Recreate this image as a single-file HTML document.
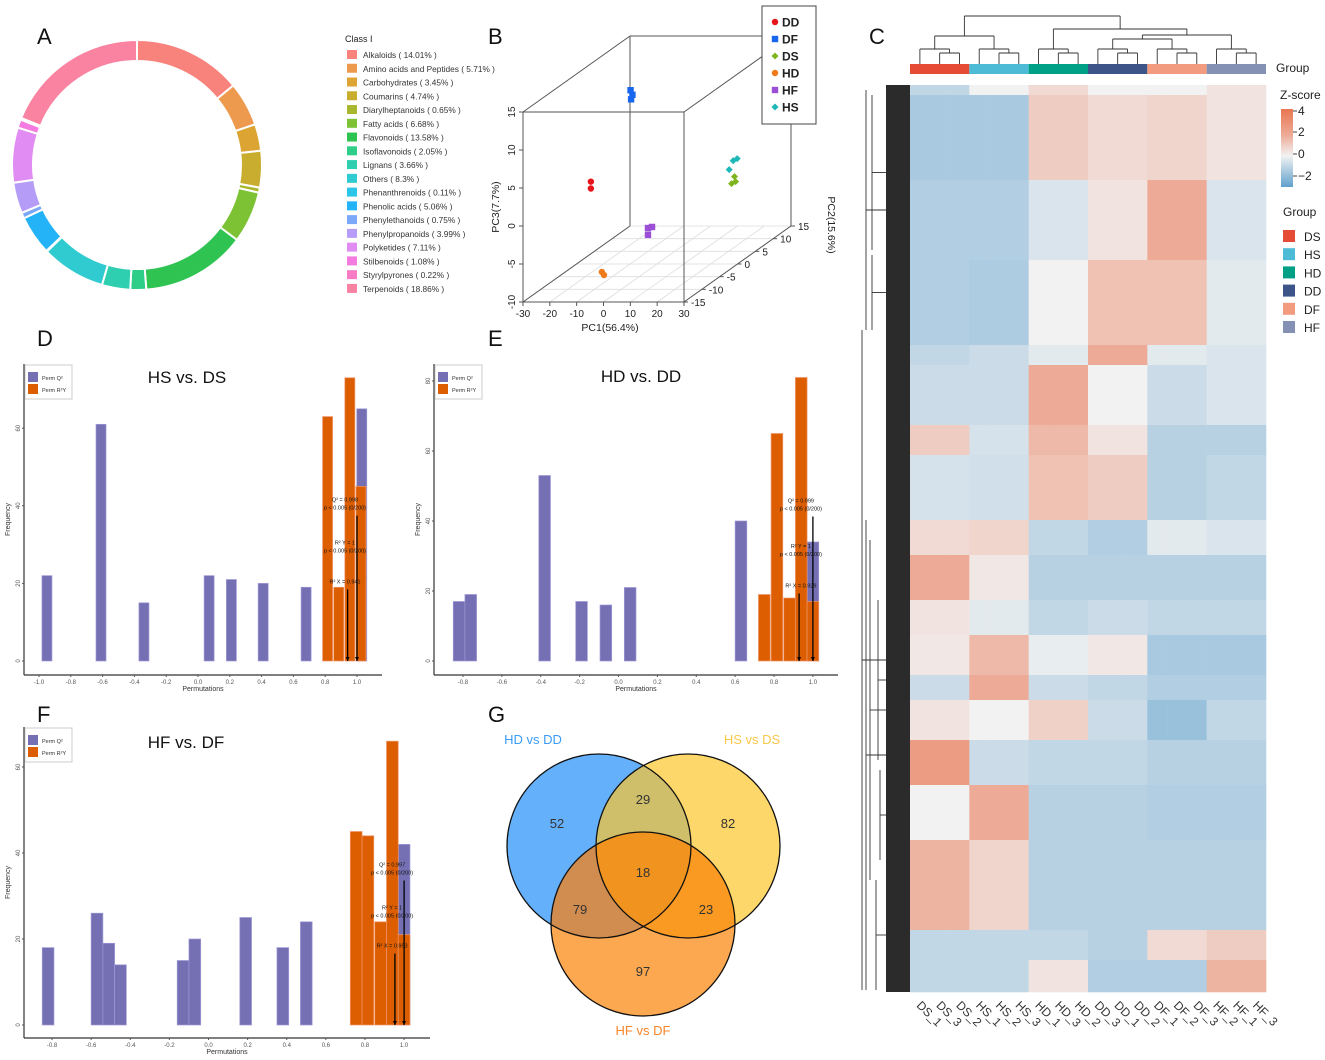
<!DOCTYPE html>
<html><head><meta charset="utf-8"><style>
html,body{margin:0;padding:0;background:#fff;}
svg{display:block;font-family:"Liberation Sans",Arial,sans-serif;}
</style></head><body>
<svg id="fig" width="1325" height="1060" viewBox="0 0 1325 1060" xmlns="http://www.w3.org/2000/svg">
<g font-size="22" fill="#111">
<text x="37" y="44">A</text><text x="488" y="44">B</text><text x="869" y="44">C</text>
<text x="37" y="346">D</text><text x="488" y="346">E</text><text x="37" y="722">F</text><text x="488" y="722">G</text>
</g>
<g id="donut"></g>
<g id="donutLegend"><text x="345" y="42" font-size="9" fill="#222">Class I</text></g>
<g id="pca"></g>
<g id="heat"></g>
<g id="histD"></g>
<g id="histE"></g>
<g id="histF"></g>
<g id="venn"></g>
</svg>
<script>
// ---------- Panel A data ----------
const donutLabels=["Alkaloids","Amino acids and Peptides","Carbohydrates","Coumarins","Diarylheptanoids","Fatty acids","Flavonoids","Isoflavonoids","Lignans","Others","Phenanthrenoids","Phenolic acids","Phenylethanoids","Phenylpropanoids","Polyketides","Stilbenoids","Styrylpyrones","Terpenoids"];
const donutValues=[14.01,5.71,3.45,4.74,0.65,6.68,13.58,2.05,3.66,8.3,0.11,5.06,0.75,3.99,7.11,1.08,0.22,18.86];
const donutColors=["#f8837c","#ee9a4e","#dca433","#c8ad2e","#a9b72e","#7dc234","#2fc452","#2ecd88","#2ecfb0","#2fcbd0","#2bc5e8","#24b3f6","#7ba8f8","#b59cf6","#e18cf2","#f47ce0","#f87bc5","#fa83a2"];
// ---------- Panel B data ----------
const pcaGroups=["DD","DF","DS","HD","HF","HS"];
const pcaColors=["#e8141c","#1766f0","#7fb51e","#ef7a1a","#9b4fd6","#1fb8b8"];
const pcaPC1=[[-18,-18],[-16.5,-15.8,-16.3],[14.5,15.6,16.0],[-4.6,-3.8],[-0.7,0.8,-0.7],[13.6,15.1,16.6]];
const pcaPC2=[[-5,-5],[5,5,5],[10,10,10],[-12,-12],[-2,-2,-2],[10,10,10]];
const pcaPC3=[[2.5,1.6],[11.2,10.6,10.0],[-2.76,-1.84,-2.5],[-7.05,-7.45],[-4.6,-4.46,-5.5],[-0.92,0.26,0.53]];
const pcaShapes=["circle","square","diamond","circle","square","diamond"];
// ---------- Panel C data ----------
const hmGroups=["DS","HS","HD","DD","DF","HF"];
const hmGroupColors=["#e64b35","#4dbbd5","#00a087","#3c5488","#f39b7f","#8491b4"];
const hmSamples=["DS_1","DS_3","DS_2","HS_1","HS_2","HS_3","HD_1","HD_3","HD_2","DD_3","DD_1","DD_2","DF_1","DF_2","DF_3","HF_2","HF_1","HF_3"];
const hmBlockRows=[10,85,80,85,20,60,30,65,35,45,35,40,25,40,45,55,90,30,32];
const hmBlockValues=[
[-1,0,0.5,0,0,0.3],[-1.5,-1.5,0.8,0.5,0.6,0.3],[-1.3,-1.3,-0.5,0.3,1.5,-0.5],[-1.3,-1.4,0,1.0,1.0,-0.3],
[-1,-0.8,-0.3,1.5,-0.3,-0.5],[-0.8,-0.8,1.5,0,-0.8,-0.5],[0.8,-0.6,1.2,0.3,-1.2,-1.2],[-0.6,-0.7,1.0,0.8,-1.2,-1.0],
[0.5,0.6,-1,-1.3,-0.3,-0.5],[1.5,0.2,-1.2,-1.2,-1.2,-1.2],[0.3,-0.3,-1,-0.8,-1,-1],[0.2,1.2,-0.2,0.2,-1.5,-1.5],
[-0.8,1.5,-0.8,-1,-1.3,-1.3],[0.3,0,0.7,-0.8,-1.8,-1],[1.8,-0.8,-1,-1,-1.2,-1.2],[0,1.5,-1.2,-1.2,-1.3,-1.3],
[1.3,0.6,-1.2,-1.2,-1.2,-1.2],[-1,-1,-1,-1.2,0.5,0.8],[-1,-1,0.3,-1.3,-1.3,1.3]];
// ---------- Panels D/E/F data ----------
const dPurpleX=[-0.95,-0.61,-0.34,0.07,0.21,0.41,0.68,1.03];
const dPurpleH=[22,61,15,22,21,20,19,65];
const dOrangeX=[0.815,0.885,0.955,1.025];
const dOrangeH=[63,19,73,45];
const dStats=[0.998,1,0.941];
const ePurpleX=[-0.82,-0.76,-0.38,-0.19,-0.065,0.06,0.63,1.0];
const ePurpleH=[17,19,53,17,16,21,40,34];
const eOrangeX=[0.75,0.815,0.88,0.94,1.0];
const eOrangeH=[19,65,18,81,17];
const eStats=[0.999,1,0.929];
const fPurpleX=[-0.82,-0.57,-0.51,-0.45,-0.13,-0.07,0.19,0.38,0.5,1.0];
const fPurpleH=[18,26,19,14,15,20,25,18,24,42];
const fOrangeX=[0.755,0.815,0.88,0.94,1.0];
const fOrangeH=[45,44,24,66,21];
const fStats=[0.997,1,0.953];
// ---------- Panel G data ----------
const vennSetNames=["HD vs DD","HS vs DS","HF vs DF"];
const vennCounts={a:52,b:82,c:97,ab:29,ac:79,bc:23,abc:18};

const NS="http://www.w3.org/2000/svg";
function mk(tag,attrs,parent){const e=document.createElementNS(NS,tag);for(const k in attrs)e.setAttribute(k,attrs[k]);parent.appendChild(e);return e;}
function txt(s,attrs,parent){const e=mk("text",attrs,parent);e.textContent=s;return e;}

// ===== Panel A =====
(function(){
  const g=document.getElementById("donut");
  const cx=137,cy=165,R=125,r=104;
  const total=donutValues.reduce((a,b)=>a+b,0);
  let a0=0;
  donutValues.forEach((v,i)=>{
    const a1=a0+v/total*2*Math.PI;
    const p=(a,rr)=>[cx+rr*Math.sin(a),cy-rr*Math.cos(a)];
    const large=(a1-a0)>Math.PI?1:0;
    const [x1,y1]=p(a0,R),[x2,y2]=p(a1,R),[x3,y3]=p(a1,r),[x4,y4]=p(a0,r);
    const path=mk("path",{d:`M${x1},${y1}A${R},${R} 0 ${large} 1 ${x2},${y2}L${x3},${y3}A${r},${r} 0 ${large} 0 ${x4},${y4}Z`,fill:donutColors[i],stroke:"#fff","stroke-width":2},g);
    
    
    a0=a1;
  });
  const lg=document.getElementById("donutLegend");
  donutLabels.forEach((l,i)=>{
    const y=50+i*13.76;
    const s=mk("rect",{x:347,y:y,width:10,height:9,fill:donutColors[i]},lg);
    
    
    const t=txt(`${l} ( ${donutValues[i]}% )`,{x:363,y:y+8,"font-size":8.3,fill:"#333"},lg);
    
    
  });
})();

// ===== Panel B =====
(function(){
  const g=document.getElementById("pca");
  const X0=523,X1=684,Y0=302,Y1=112,DX=107,DY=-76;
  const px=(a,b,c)=>X0+(a+30)/60*(X1-X0)+(b+15)/30*DX;
  const py=(a,b,c)=>Y0-(c+10)/25*(Y0-Y1)+(b+15)/30*DY;
  const ln=(x1,y1,x2,y2,col,w)=>mk("line",{x1,y1,x2,y2,stroke:col||"#555","stroke-width":w||1},g);
  // bottom grid
  for(let v=-30;v<=30;v+=10){ln(px(v,-15,-10),py(v,-15,-10),px(v,15,-10),py(v,15,-10),"#ddd",0.8);}
  for(let v=-15;v<=15;v+=5){ln(px(-30,v,-10),py(-30,v,-10),px(30,v,-10),py(30,v,-10),"#ddd",0.8);}
  // box
  ln(X0,Y0,X1,Y0);ln(X0,Y1,X1,Y1);ln(X0,Y0,X0,Y1);ln(X1,Y0,X1,Y1);
  ln(X0,Y0,X0+DX,Y0+DY);ln(X0,Y1,X0+DX,Y1+DY);ln(X1,Y1,X1+DX,Y1+DY);ln(X1,Y0,X1+DX,Y0+DY);
  ln(X0+DX,Y1+DY,X1+DX,Y1+DY);ln(X0+DX,Y1+DY,X0+DX,Y0+DY);ln(X1+DX,Y1+DY,X1+DX,Y0+DY);
  // ticks
  for(let v=-30;v<=30;v+=10){const x=px(v,-15,-10);ln(x,Y0,x,Y0+4);const t=txt(String(v),{x:x,y:Y0+15,"font-size":10,"text-anchor":"middle",fill:"#222"},g);}
  for(let v=-10;v<=15;v+=5){const y=py(-30,-15,v);ln(X0-4,y,X0,y);const t=txt(String(v),{x:X0-8,y:y,"font-size":10,"text-anchor":"middle",fill:"#222",transform:`rotate(-90 ${X0-8} ${y})`},g);}
  for(let v=-15;v<=15;v+=5){const x=px(30,v,-10),y=py(30,v,-10);ln(x,y,x+4,y);const t=txt(String(v),{x:x+7,y:y+4,"font-size":10,fill:"#222"},g);}
  let t=txt("PC1(56.4%)",{x:610,y:331,"font-size":10.5,"text-anchor":"middle",fill:"#222"},g);
  t=txt("PC3(7.7%)",{x:499,y:207,"font-size":10.5,"text-anchor":"middle",fill:"#222",transform:"rotate(-90 499 207)"},g);
  t=txt("PC2(15.6%)",{x:828,y:225,"font-size":10.5,"text-anchor":"middle",fill:"#222",transform:"rotate(90 828 225)"},g);
  function marker(shape,x,y,col,s){
    let e;
    if(shape==="circle")e=mk("circle",{cx:x,cy:y,r:s,fill:col},g);
    else if(shape==="square")e=mk("rect",{x:x-s,y:y-s,width:2*s,height:2*s,fill:col},g);
    else e=mk("polygon",{points:`${x},${y-s*1.1} ${x+s*1.1},${y} ${x},${y+s*1.1} ${x-s*1.1},${y}`,fill:col},g);
    return e;
  }
  pcaGroups.forEach((gr,i)=>{
    pcaPC1[i].forEach((a,j)=>{
      const b=pcaPC2[i][j],c=pcaPC3[i][j];
      const m=marker(pcaShapes[i],px(a,b,c),py(a,b,c),pcaColors[i],3.2);
      
      
    });
  });
  const lb=mk("rect",{x:762,y:6,width:54,height:118,fill:"#fff",stroke:"#444","stroke-width":1},g);
  
  
  pcaGroups.forEach((gr,i)=>{
    const y=22+i*17;
    const m=marker(pcaShapes[i],775,y,pcaColors[i],3.2);
    
    
    const tt=txt(gr,{x:782,y:y+4.5,"font-size":12,"font-weight":"bold",fill:"#222"},g);
    
    
  });
})();

// ===== Panel C =====
(function(){
  const g=document.getElementById("heat");
  const L=910,Rr=1266,T=85;
  const cw=(Rr-L)/hmSamples.length;
  function zColor(z){
    z=Math.max(-3,Math.min(3,z));
    const w=[242,242,242];let c;
    if(z<0){const t=-z/3;c=[95,160,205];}else{const t=z/2.6;c=[233,118,82];}
    const t=z<0?-z/3:Math.min(1,z/2.6);
    return `rgb(${w.map((v,k)=>Math.round(v+(c[k]-v)*t)).join(",")})`;
  }
  let y=T;
  hmBlockRows.forEach((n,b)=>{
    hmSamples.forEach((s,j)=>{
      const gi=Math.floor(j/3);
      const r=mk("rect",{x:L+j*cw,y:y,width:cw+0.3,height:n+0.3,fill:zColor(hmBlockValues[b][gi])},g);
      
      
    });
    y+=n;
  });
  const B=y;
  // group bar
  hmGroups.forEach((gr,i)=>{
    const r=mk("rect",{x:L+i*3*cw,y:64,width:3*cw,height:10,fill:hmGroupColors[i]},g);
    
    
  });
  // top dendrogram
  const cx=j=>L+cw*(j+0.5);
  const dl=(x1,y1,x2,y2)=>mk("line",{x1,y1,x2,y2,stroke:"#333","stroke-width":0.9},g);
  const groupTop=[];
  for(let i=0;i<6;i++){
    const a=cx(3*i),b=cx(3*i+1),c=cx(3*i+2),m=(b+c)/2,t1=53,t2=49;
    dl(b,64,b,t1);dl(c,64,c,t1);dl(b,t1,c,t1);
    dl(a,64,a,t2);dl(m,t1,m,t2);dl(a,t2,m,t2);
    groupTop.push((a+m)/2);
  }
  const J=(x1,y1,x2,y2,yt)=>{dl(x1,y1,x1,yt);dl(x2,y2,x2,yt);dl(x1,yt,x2,yt);return (x1+x2)/2;};
  const dsHs=J(groupTop[0],49,groupTop[1],49,36);
  const ddDf=J(groupTop[3],49,groupTop[4],49,39);
  const rest=J(ddDf,39,groupTop[5],49,35);
  const hdRest=J(groupTop[2],49,rest,35,29);
  J(dsHs,36,hdRest,29,16);
  // left dendrogram (decorative)
  const dr=mk("rect",{x:886,y:T,width:24,height:B-T,fill:"#2b2b2b"},g);
  
  
  const lv=[[862,330,990],[866,90,330],[866,520,990],[872,95,250],[872,255,330],[870,540,880],[876,880,990],[878,600,760],[880,770,860]];
  lv.forEach(v=>{dl(v[0],v[1],v[0],v[2]);dl(v[0],(v[1]+v[2])/2,886,(v[1]+v[2])/2);});
  // column labels
  hmSamples.forEach((s,j)=>{
    const x=cx(j)-4,yy=B+14;
    const t=txt(s.replace("_","_"),{x:x,y:yy,"font-size":12,fill:"#333",transform:`rotate(45 ${x} ${yy})`},g);
    
    
  });
  // legends
  let t=txt("Group",{x:1276,y:72,"font-size":12,fill:"#222"},g);
  t=txt("Z-score",{x:1280,y:99,"font-size":12,fill:"#222"},g);
  const defs=mk("defs",{},g);const lgd=mk("linearGradient",{id:"zg",x1:0,y1:0,x2:0,y2:1},defs);
  [[0,zColor(3)],[0.33,zColor(1.5)],[0.6,zColor(0)],[1,zColor(-3)]].forEach(s=>mk("stop",{offset:s[0],"stop-color":s[1]},lgd));
  const cb=mk("rect",{x:1281,y:109,width:12,height:78,fill:"url(#zg)"},g);
  
  
  [["4",111],["2",132],["0",154],["\u22122",176]].forEach(k=>{dl(1293,k[1],1297,k[1]);const tt=txt(k[0],{x:1298,y:k[1]+4,"font-size":12,fill:"#222"},g);});
  t=txt("Group",{x:1283,y:216,"font-size":12,fill:"#222"},g);
  hmGroups.forEach((gr,i)=>{
    const yy=230+i*18.2;
    const r=mk("rect",{x:1283,y:yy,width:12,height:12,fill:hmGroupColors[i]},g);
    
    
    const tt=txt(gr,{x:1304,y:yy+11,"font-size":12,fill:"#222"},g);
    
    
  });
})();

// ===== Panels D/E/F =====
function hist(id,cfg,pX,pH,oX,oH,stats){
  const g=document.getElementById(id);
  const sx=v=>cfg.x0px+(v-cfg.x0)*cfg.xs, sy=v=>cfg.y0px-v*cfg.ys;
  const bw=cfg.bw*cfg.xs;
  pX.forEach((x,i)=>{const r=mk("rect",{x:sx(x)-bw/2,y:sy(pH[i]),width:bw,height:pH[i]*cfg.ys,fill:"#7570b3",stroke:"#9e9ad6","stroke-width":0.7},g);});
  oX.forEach((x,i)=>{const r=mk("rect",{x:sx(x)-bw/2,y:sy(oH[i]),width:bw,height:oH[i]*cfg.ys,fill:"#dd5e00",stroke:"#f0956a","stroke-width":0.7},g);});
  const axY=cfg.axisY;
  mk("line",{x1:cfg.left,y1:cfg.top,x2:cfg.left,y2:axY,stroke:"#333","stroke-width":1.2},g);
  mk("line",{x1:cfg.left,y1:axY,x2:cfg.right,y2:axY,stroke:"#333","stroke-width":1.2},g);
  cfg.xt.forEach(v=>{const x=sx(v);mk("line",{x1:x,y1:axY,x2:x,y2:axY+2,stroke:"#555"},g);const t=txt(v.toFixed(1),{x:x,y:axY+9,"font-size":6,"text-anchor":"middle",fill:"#555"},g);});
  cfg.yt.forEach(v=>{const y=sy(v);mk("line",{x1:cfg.left-2,y1:y,x2:cfg.left,y2:y,stroke:"#555"},g);const t=txt(String(v),{x:cfg.left-4,y:y,"font-size":6,"text-anchor":"middle",fill:"#555",transform:`rotate(-90 ${cfg.left-4} ${y})`},g);});
  let t=txt("Permutations",{x:(cfg.left+cfg.right)/2,y:axY+16,"font-size":7,"text-anchor":"middle",fill:"#333"},g);
  const ym=(cfg.top+axY)/2;
  t=txt("Frequency",{x:cfg.left-14,y:ym,"font-size":7,"text-anchor":"middle",fill:"#333",transform:`rotate(-90 ${cfg.left-14} ${ym})`},g);
  t=txt(cfg.title,{x:cfg.tx,y:cfg.ty,"font-size":17,"text-anchor":"middle",fill:"#111"},g);
  // legend
  const lb=mk("rect",{x:cfg.left+1,y:cfg.top+1,width:47,height:34,fill:"#fff",stroke:"#ccc","stroke-width":1},g);
  
  mk("rect",{x:cfg.left+4,y:cfg.top+8,width:10,height:10,fill:"#7570b3"},g);
  mk("rect",{x:cfg.left+4,y:cfg.top+20,width:10,height:10,fill:"#dd5e00"},g);
  t=txt("Perm Q\u00b2",{x:cfg.left+18,y:cfg.top+16,"font-size":5.5,fill:"#333"},g);
  t=txt("Perm R\u00b2Y",{x:cfg.left+18,y:cfg.top+28,"font-size":5.5,fill:"#333"},g);
  // arrows & annotations
  const xq=sx(1.0),xx=sx(stats[2]);
  const aq=cfg.annY[0],ax=cfg.annY[2];
  mk("line",{x1:xq,y1:sy(aq)+6,x2:xq,y2:cfg.y0px,stroke:"#000","stroke-width":1.3},g);
  mk("line",{x1:xx,y1:sy(ax)+6,x2:xx,y2:cfg.y0px,stroke:"#000","stroke-width":1.3},g);
  mk("polygon",{points:`${xq-2},${cfg.y0px-4} ${xq+2},${cfg.y0px-4} ${xq},${cfg.y0px}`,fill:"#000"},g);
  mk("polygon",{points:`${xx-2},${cfg.y0px-4} ${xx+2},${cfg.y0px-4} ${xx},${cfg.y0px}`,fill:"#000"},g);
  const an=[["Q\u00b2 = "+stats[0],0,-8],["p < 0.005 (0/200)",0,0],["R\u00b2 Y = "+stats[1],1,-8],["p < 0.005 (0/200)",1,0],["R\u00b2 X = "+stats[2],2,0]];
  an.forEach(a=>{const t2=txt(a[0],{x:xq-12,y:sy(cfg.annY[a[1]])+a[2],"font-size":5.5,"text-anchor":"middle",fill:"#111"},g);});
}
hist("histD",{x0:0,x0px:198,xs:159,y0px:661,ys:3.88,bw:0.063,left:24,right:382,top:364,axisY:675,xt:[-1,-0.8,-0.6,-0.4,-0.2,0,0.2,0.4,0.6,0.8,1],yt:[0,20,40,60],title:"HS vs. DS",tx:187,ty:383,annY:[39,28,20]},dPurpleX,dPurpleH,dOrangeX,dOrangeH,dStats);
hist("histE",{x0:0,x0px:618.5,xs:194.4,y0px:661,ys:3.5,bw:0.06,left:434,right:838,top:364,axisY:675,xt:[-0.8,-0.6,-0.4,-0.2,0,0.2,0.4,0.6,0.8,1],yt:[0,20,40,60,80],title:"HD vs. DD",tx:641,ty:382,annY:[43,30,21]},ePurpleX,ePurpleH,eOrangeX,eOrangeH,eStats);
hist("histF",{x0:0,x0px:208.5,xs:195.6,y0px:1025,ys:4.3,bw:0.06,left:24,right:430,top:727,axisY:1038,xt:[-0.8,-0.6,-0.4,-0.2,0,0.2,0.4,0.6,0.8,1],yt:[0,20,40,60],title:"HF vs. DF",tx:186,ty:748,annY:[35,25,18]},fPurpleX,fPurpleH,fOrangeX,fOrangeH,fStats);

// ===== Panel G =====
(function(){
  const g=document.getElementById("venn");
  const C=[[599,846,"#64b0fb"],[688,846,"#fdd76a"],[643,924,"#fca850"]],R=92;
  const defs=mk("defs",{},g);
  C.forEach((c,i)=>{const cp=mk("clipPath",{id:"vc"+i},defs);mk("circle",{cx:c[0],cy:c[1],r:R},cp);});
  C.forEach((c,i)=>{const e=mk("circle",{cx:c[0],cy:c[1],r:R,fill:c[2]},g);});
  const ov=(i,j,col)=>{const wrap=mk("g",{"clip-path":`url(#vc${i})`},g);mk("circle",{cx:C[j][0],cy:C[j][1],r:R,fill:col},wrap);return wrap;};
  ov(0,1,"#cfbe6a");ov(0,2,"#d18c50");ov(1,2,"#fb9a22");
  const w=mk("g",{"clip-path":"url(#vc0)"},g);const w2=mk("g",{"clip-path":"url(#vc1)"},w);mk("circle",{cx:C[2][0],cy:C[2][1],r:R,fill:"#f0941f"},w2);
  C.forEach(c=>mk("circle",{cx:c[0],cy:c[1],r:R,fill:"none",stroke:"#111","stroke-width":1.3},g));
  const lab=[[vennCounts.a,557,823],[vennCounts.b,728,823],[vennCounts.ab,643,799],[vennCounts.abc,643,872],[vennCounts.ac,580,909],[vennCounts.bc,706,909],[vennCounts.c,643,971]];
  lab.forEach(l=>{const t=txt(String(l[0]),{x:l[1],y:l[2]+5,"font-size":13,"text-anchor":"middle",fill:"#333"},g);});
  const sl=[[vennSetNames[0],533,744,"#3b9cf5"],[vennSetNames[1],752,744,"#f8c84a"],[vennSetNames[2],643,1035,"#f8862a"]];
  sl.forEach(s=>{const t=txt(s[0],{x:s[1],y:s[2],"font-size":13,"text-anchor":"middle",fill:s[3]},g);});
})();
</script>
</body></html>
